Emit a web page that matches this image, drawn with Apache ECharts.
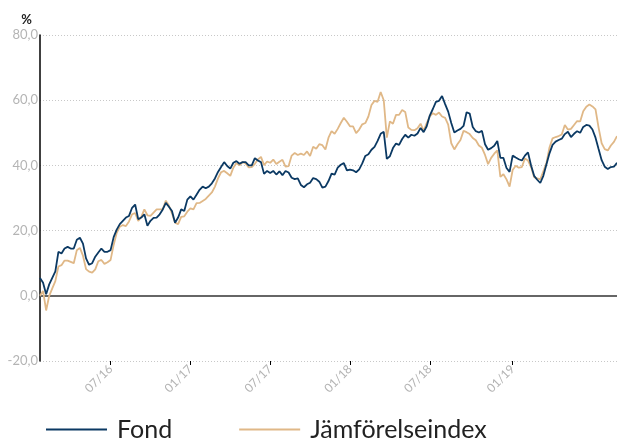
<!DOCTYPE html>
<html>
<head>
<meta charset="utf-8">
<script src="https://cdn.jsdelivr.net/npm/echarts@6/dist/echarts.min.js"></script>
<style>
html,body{margin:0;padding:0;background:#fff;}
#chart{width:617px;height:438px;}
</style>
</head>
<body>
<div id="chart"></div>
<script>
// Weekly observations, first one on 2016-01-22
const startDate = '2016-01-22';
const seriesNames = ['Fond', 'Jämförelseindex'];
const fond = [
5.5,4,0.5,3.5,5.5,7.5,13.5,13,14.5,15,14.5,14.5,17.2,17.8,16,11.5,9.5,10,12,13.3,
14.5,13.5,13.5,14,18,20.3,22,23,24,24.5,27,28,23.5,24,25,21.5,23,23.9,24,25,
26.5,28.5,27.3,26,22.4,24,26.5,26,29.5,30.5,29.5,31,32.5,33.5,33,33.5,34.5,36,38,39.5,
41,39.8,39,40.8,41.3,40.5,41,41,40,40,42.2,41.5,41,37.4,38.3,37.7,38.3,37.2,38.2,37,
38.3,37.8,36.2,35.8,36,34,33.3,34.2,34.7,36.1,35.8,35,33.2,33.5,35.2,37.5,37.2,39.3,40.2,40.7,
38.5,38.7,38.5,37.9,38.8,40.6,42.9,43.4,44.8,45.7,47.5,49.7,50.3,42,42.8,45.3,46.7,46.3,48.1,49.4,
48.5,49.4,49.1,49.8,51.5,50.2,52,55.3,57.3,59.5,59.8,61.3,58.8,56.5,53,50.1,50.7,51.2,52.1,56.3,
55.9,51.8,50.5,50.1,50.6,46.5,44.8,45.3,46,47.5,42.3,42.3,39.2,38,43,42.4,41.9,41.5,43,44,
40,36.8,35.6,34.6,36.8,40.3,43.7,46.3,47.3,47.8,48.2,49.6,50.3,48.7,49.7,50.5,50,51.8,52.4,52.2,
51,48.5,45,41.6,39.6,38.9,39.5,39.6,40.8
];
const index = [
0,1.5,-4.5,0,2.3,4.5,9,9.4,10.8,10.8,10.4,10,14,14.7,12.3,8.2,7.4,7.1,8.1,10.6,
11,9.8,10.3,11,15.6,19.3,21.2,21.7,21.4,22.8,25,25.4,23,24.2,26.5,24.7,24.5,25.5,26.5,26.5,
26.6,29.2,27.7,25.3,22.4,22,24.2,24.4,25.8,26.8,26.5,28.4,28.5,29.1,29.7,30.7,31.7,33.5,36,37.9,
38.3,37.6,36.8,39.3,40.7,40,41,40.6,39.4,39.5,40.5,41.8,42.6,40.1,41.2,40.8,41.8,40.4,41.1,41.7,
39.6,39.8,43,43.8,43.2,43.6,43.2,44.3,42.9,45.7,45.1,46.5,46.2,44.9,48.5,50.5,49.7,51.2,53,54.6,
53.4,52,52,49.9,51,52.6,53,55,58.5,59.8,59.5,62.5,60,48.5,53.5,52.8,55.5,55.5,57,56.4,
51.6,50.9,50.8,51.4,52.8,50.6,53,55,56,55.5,56.2,55,54.6,52.5,46.8,44.9,46.5,47.8,50.6,50.2,
49.6,48.4,47.7,46.1,45.4,43.2,40.4,42.3,43.6,44.6,36.5,37.3,35.7,33.5,38.6,39.9,39.3,39.5,42.1,41.5,
39.5,36.4,36,35.7,38.2,40.7,45.5,48.3,48.7,49,49.5,52.4,51,51.2,52.4,53.6,53.5,56.6,58,58.7,
58.1,57.2,51.6,46.8,45,44.6,46.1,47.2,49
];
const tickDates = ['2016-07-01','2017-01-01','2017-07-01','2018-01-01','2018-07-01','2019-01-01'];
const tickLabels = ['07/16','01/17','07/17','01/18','07/18','01/19'];

const DAY = 86400000;
const t0 = Date.parse(startDate + 'T00:00:00Z');
const categories = fond.map((_, i) => new Date(t0 + i * 7 * DAY).toISOString().slice(0, 10));
const tickMap = {};
tickDates.forEach((d, k) => {
  const idx = Math.round((Date.parse(d + 'T00:00:00Z') - t0) / (7 * DAY));
  tickMap[idx] = tickLabels[k];
});

const chart = echarts.init(document.getElementById('chart'), null, {renderer: 'canvas'});
const FONT = 'Lato';
chart.setOption({
  animation: false,
  backgroundColor: '#fff',
  textStyle: {fontFamily: FONT},
  grid: {left: 40, right: 0, top: 35, bottom: 77, containLabel: false},
  legend: {
    data: seriesNames,
    left: 46,
    top: 417,
    padding: 0,
    icon: 'rect',
    itemWidth: 61,
    itemHeight: 2,
    itemGap: 67,
    textStyle: {fontFamily: FONT, fontSize: 25, color: '#222', padding: [0, 0, 0, 5]}
  },
  xAxis: {
    type: 'category',
    data: categories,
    boundaryGap: false,
    axisLine: {show: false, onZero: false},
    axisTick: {
      show: true,
      interval: (i) => tickMap[i] !== undefined,
      length: 4,
      lineStyle: {color: '#000', width: 1}
    },
    axisLabel: {
      interval: (i) => tickMap[i] !== undefined,
      formatter: (v, i) => tickMap[i] || '',
      rotate: 45,
      color: '#b4b4b4',
      fontSize: 12,
      fontFamily: FONT,
      margin: 6
    },
    splitLine: {show: false}
  },
  yAxis: {
    type: 'value',
    min: -20,
    max: 80,
    interval: 20,
    name: '%',
    nameLocation: 'end',
    nameGap: 15,
    nameTextStyle: {color: '#222', fontSize: 13, fontWeight: 'bold', fontFamily: FONT, align: 'right', verticalAlign: 'middle', padding: [0, 8, 0, 0]},
    axisLine: {show: true, lineStyle: {color: '#000', width: 1.5}},
    axisTick: {show: false},
    axisLabel: {
      color: '#b4b4b4',
      fontSize: 13,
      fontFamily: FONT,
      margin: 2,
      formatter: (v) => v.toFixed(1).replace('.', ',')
    },
    splitLine: {show: true, lineStyle: {color: '#c8c8c8', type: [1, 2], width: 1}}
  },
  series: [
    {
      name: seriesNames[1],
      type: 'line',
      data: index,
      showSymbol: false,
      symbol: 'none',
      lineStyle: {color: '#e0b887', width: 1.8},
      itemStyle: {color: '#e0b887'},
      z: 2
    },
    {
      name: seriesNames[0],
      type: 'line',
      data: fond,
      showSymbol: false,
      symbol: 'none',
      lineStyle: {color: '#0b3963', width: 1.8},
      itemStyle: {color: '#0b3963'},
      z: 3,
      markLine: {
        silent: true,
        symbol: 'none',
        label: {show: false},
        lineStyle: {color: '#666', width: 2, type: 'solid'},
        data: [{yAxis: 0}],
        z: 1
      }
    }
  ]
});
</script>
</body>
</html>
